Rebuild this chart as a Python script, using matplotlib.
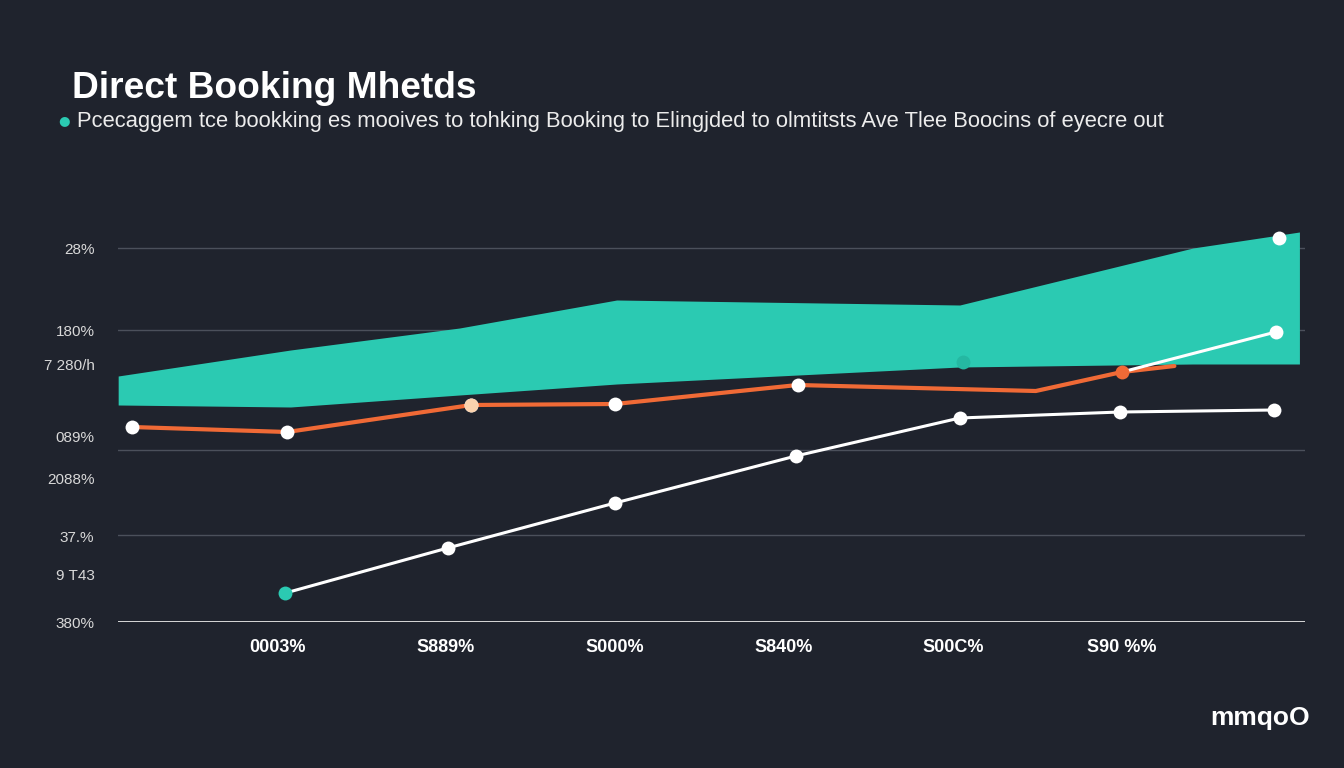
import matplotlib.pyplot as plt

plt.rcParams['font.family'] = ['Liberation Sans', 'DejaVu Sans']

BG = '#1f232d'
TEAL = '#2bcab2'
ORANGE = '#f06a36'
GRID = '#4b505b'

# categories on the x axis (garbled labels as in the picture)
x_ticks = [1, 2, 3, 4, 5, 6]
x_labels = ['0003%', 'S889%', 'S000%', 'S840%', 'S00C%', 'S90 %%']

# y tick labels, with their positions
y_ticks = [93.5, 73, 64.25, 46.25, 36, 21.5, 11.75, 0]
y_labels = ['28%', '180%', '7 280/h', '089%', '2088%', '37.%', '9 T43', '380%']
grid_y = [93.5, 73, 43, 21.75]

# teal band
band_x = [0.06, 1.08, 2.08, 3.01, 5.04, 6.42, 7.05]
band_top = [61.5, 68, 73.5, 80.5, 79.25, 93.5, 97.5]
band_low = [54.25, 53.75, 56.75, 59.5, 63.75, 64.5, 64.5]

# orange series
orange_x = [0.14, 1.06, 2.15, 3.0, 4.08, 5.49, 6.0, 6.31]
orange_y = [48.75, 47.5, 54.25, 54.5, 59.25, 57.75, 62.5, 64]

# lower white series
white_x = [1.05, 2.01, 3.0, 4.07, 5.04, 5.99, 6.9]
white_y = [7.25, 18.5, 29.75, 41.5, 51, 52.5, 53]

# upper white segment
upper_x = [6.0, 6.91]
upper_y = [62.5, 72.5]

fig = plt.figure(figsize=(13.44, 7.68), dpi=100, facecolor=BG)
ax = fig.add_axes([118 / 1344, 146 / 768, 1187 / 1344, 400 / 768])
ax.set_facecolor(BG)
ax.set_xlim(0.059, 7.083)
ax.set_ylim(0, 100)

for gy in grid_y:
    ax.axhline(gy, color=GRID, lw=1, zorder=1)
ax.axhline(0, color='#e8e8e8', lw=2, zorder=2)

ax.fill_between(band_x, band_low, band_top, color=TEAL, lw=0, zorder=2)

ax.plot(orange_x, orange_y, color=ORANGE, lw=3, solid_capstyle='round', zorder=3)
mk = dict(marker='o', ms=10, ls='none', mec='none', zorder=5)
ax.plot(orange_x[:5], orange_y[:5], mfc='white', **mk)
ax.plot(orange_x[2], orange_y[2], mfc='#fbd3ae', **mk)
ax.plot(orange_x[6], orange_y[6], mfc=ORANGE, **mk)

ax.plot(white_x, white_y, color='white', lw=2.2, zorder=4)
ax.plot(white_x[1:], white_y[1:], mfc='white', **mk)
ax.plot(white_x[0], white_y[0], mfc=TEAL, **mk)

ax.plot(upper_x, upper_y, color='white', lw=2.2, zorder=4)
ax.plot(upper_x[1], upper_y[1], mfc='white', **mk)
ax.plot(6.93, 96, mfc='white', **mk)
ax.plot(5.06, 65, mfc='#25b8a2', **mk)

ax.set_xticks(x_ticks)
ax.set_xticklabels(x_labels, fontsize=13, fontweight='bold', color='white')
ax.set_yticks(y_ticks)
ax.set_yticklabels(y_labels, fontsize=11, color='#d8d8d8')
ax.tick_params(axis='both', length=0)
ax.tick_params(axis='y', pad=17)
ax.tick_params(axis='x', pad=12)
for s in ax.spines.values():
    s.set_visible(False)

fig.text(72 / 1344, 1 - 98 / 768, 'Direct Booking Mhetds', fontsize=26.7,
         fontweight='bold', color='white', va='baseline')
fig.text(64 / 1344, 1 - 121 / 768, '\u25cf', fontsize=9.5, color=TEAL,
         va='center', ha='center', family='DejaVu Sans')
fig.text(77 / 1344, 1 - 122 / 768,
         'Pcecaggem tce bookking es mooives to tohking Booking to Elingjded '
         'to olmtitsts Ave Tlee Boocins of eyecre out',
         fontsize=15.8, color='#ececec', va='center')
fig.text(1310 / 1344, 1 - 718 / 768, 'mmqoO', fontsize=19, fontweight='bold',
         color='white', ha='right', va='center')

fig.savefig('out.png', facecolor=BG)
